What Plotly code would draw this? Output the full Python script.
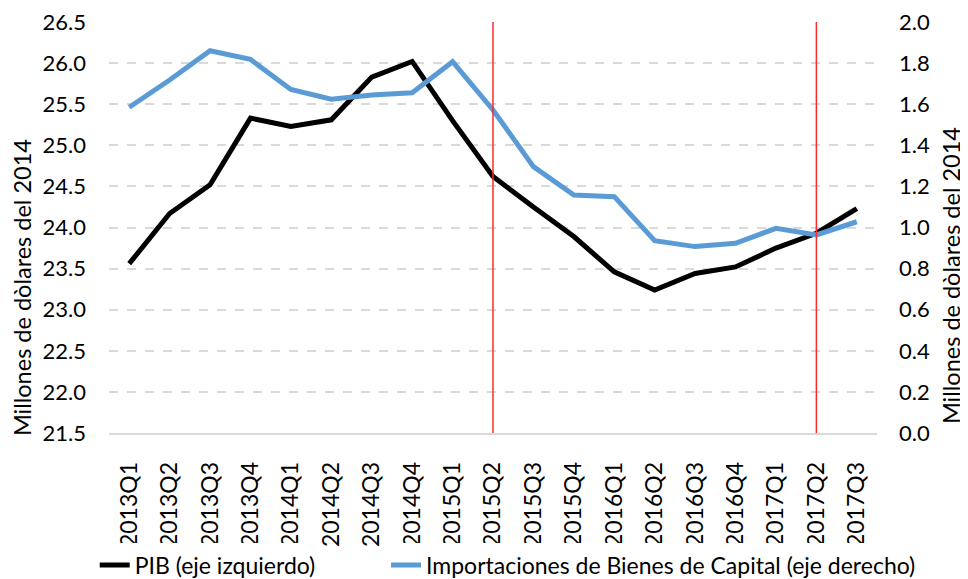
import plotly.graph_objects as go
from plotly.subplots import make_subplots

quarters = ["2013Q1", "2013Q2", "2013Q3", "2013Q4", "2014Q1", "2014Q2", "2014Q3",
            "2014Q4", "2015Q1", "2015Q2", "2015Q3", "2015Q4", "2016Q1", "2016Q2",
            "2016Q3", "2016Q4", "2017Q1", "2017Q2", "2017Q3"]
pib = [23.56, 24.17, 24.52, 25.33, 25.23, 25.31, 25.83, 26.02, 25.30, 24.62,
       24.25, 23.89, 23.46, 23.24, 23.44, 23.52, 23.75, 23.93, 24.23]
importaciones = [1.585, 1.718, 1.860, 1.818, 1.672, 1.624, 1.645, 1.656, 1.807, 1.572,
                 1.296, 1.158, 1.150, 0.936, 0.907, 0.923, 0.996, 0.964, 1.028]
cortes = ["2015Q2", "2017Q2"]

fnt = "Lato, Open Sans, sans-serif"
titulo_eje = "Millones de dòlares del 2014"

fig = make_subplots(specs=[[{"secondary_y": True}]])

fig.add_trace(go.Scatter(x=quarters, y=pib, mode="lines", name="PIB (eje izquierdo)",
                         line=dict(color="black", width=5), legend="legend"),
              secondary_y=False)
fig.add_trace(go.Scatter(x=quarters, y=importaciones, mode="lines",
                         name="Importaciones de Bienes de Capital (eje derecho)",
                         line=dict(color="#5b9bd5", width=5), legend="legend2"),
              secondary_y=True)

for q in cortes:
    fig.add_shape(type="line", x0=q, x1=q, xref="x", y0=0, y1=1, yref="paper",
                  line=dict(color="#ff2a2a", width=1.5), layer="above")

fig.update_xaxes(type="category", tickangle=-90, showgrid=False, automargin=False,
                 domain=[0, 1], range=[-0.5, len(quarters) - 0.5],
                 showline=True, linecolor="#d9d9d9", linewidth=1.5,
                 tickfont=dict(size=23, color="black"), ticks="",
                 ticklabelstandoff=18, ticklabeloverflow="allow")
fig.update_yaxes(range=[21.5, 26.5], dtick=0.5, tickformat=".1f", automargin=False,
                 showgrid=True, gridcolor="#d9d9d9", griddash="dash", gridwidth=1.5,
                 zeroline=False, tickfont=dict(size=22, color="black"), ticks="",
                 ticklabelstandoff=22, ticklabeloverflow="allow",
                 secondary_y=False)
fig.update_yaxes(range=[0, 2], dtick=0.2, tickformat=".1f", showgrid=False,
                 zeroline=False, tickfont=dict(size=22, color="black"), ticks="",
                 automargin=False, ticklabelstandoff=21, ticklabeloverflow="allow",
                 secondary_y=True)

# titulos de los ejes como anotaciones (Excel no los centra en el area del grafico)
fig.add_annotation(text=titulo_eje, textangle=-90, xref="paper", yref="paper",
                   x=-0.1133, y=0.355, xanchor="center", yanchor="middle",
                   showarrow=False, font=dict(size=23.5, color="black"))
fig.add_annotation(text=titulo_eje, textangle=-90, xref="paper", yref="paper",
                   x=1.0964, y=0.382, xanchor="center", yanchor="middle",
                   showarrow=False, font=dict(size=23.5, color="black"))

fig.update_layout(
    width=960, height=571,
    margin=dict(l=101, r=91, t=14, b=146, autoexpand=False),
    paper_bgcolor="white", plot_bgcolor="white",
    font=dict(family=fnt, color="black"),
    showlegend=True,
    legend=dict(orientation="h", x=-0.0186, xanchor="left", y=-0.321, yanchor="middle",
                font=dict(size=23, color="black")),
    legend2=dict(orientation="h", x=0.3607, xanchor="left", y=-0.321, yanchor="middle",
                 font=dict(size=23, color="black")),
)

fig.write_html("out.html")
